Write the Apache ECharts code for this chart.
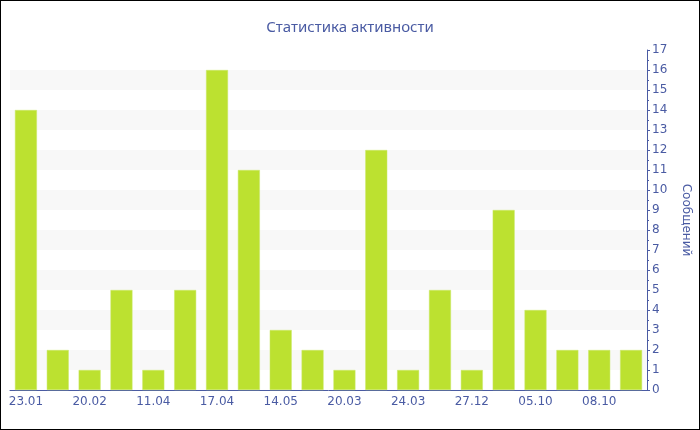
<!DOCTYPE html>
<html><head><meta charset="utf-8">
<script src="https://cdn.jsdelivr.net/npm/echarts@6/dist/echarts.min.js"></script>
<style>html,body{margin:0;padding:0;background:#fff}#w{position:relative;width:700px;height:430px}#c{width:700px;height:430px}#b{position:absolute;left:0;top:0;width:700px;height:430px;box-sizing:border-box;border:1px solid #000;pointer-events:none}</style>
</head><body><div id="w"><div id="c"></div><div id="b"></div></div>
<script>
const titleText = 'Статистика активности';
const axisName = 'Сообщений';
const categories = ['23.01','28.01','20.02','05.03','11.04','14.04','17.04','02.05','14.05','18.05','20.03','22.03','24.03','15.12','27.12','30.12','05.10','07.10','08.10','09.10'];
const values = [14,2,1,5,1,5,16,11,3,2,1,12,1,5,1,9,4,2,2,2];
const yTicks = {min:0, max:17, interval:1};

const blue = '#4a5ba3';
const chart = echarts.init(document.getElementById('c'), null, {renderer:'canvas'});
chart.setOption({
  animation:false,
  title:{text:titleText,left:'center',top:15,textStyle:{color:blue,fontSize:15,fontWeight:'normal',fontFamily:'Noto Sans'}},
  grid:{left:10,right:50,top:50,bottom:40,containLabel:false},
  xAxis:{type:'category',data:categories,
    axisLine:{lineStyle:{color:blue,width:1}},
    axisTick:{alignWithLabel:true,interval:1,length:3,lineStyle:{color:blue}},
    axisLabel:{interval:1,color:blue,fontSize:12,fontFamily:'DejaVu Sans',margin:6},
    splitLine:{show:false}},
  yAxis:{type:'value',position:'right',min:yTicks.min,max:yTicks.max,interval:yTicks.interval,
    name:axisName,nameLocation:'middle',nameGap:33,nameRotate:-90,
    nameTextStyle:{color:blue,fontSize:12,fontFamily:'DejaVu Sans'},
    axisLine:{show:true,lineStyle:{color:blue}},
    axisTick:{show:true,length:3,lineStyle:{color:blue}},
    minorTick:{show:true,splitNumber:2,length:2,lineStyle:{color:blue}},
    axisLabel:{color:blue,fontSize:12,fontFamily:'DejaVu Sans',margin:5},
    splitLine:{show:false},
    splitArea:{show:true,areaStyle:{color:['#ffffff','#f8f8f8']}}},
  series:[{type:'bar',data:values,barWidth:'69%',
    itemStyle:{color:'#bce130',borderColor:'#cbe86a',borderWidth:0.5}}]
});
</script></body></html>
